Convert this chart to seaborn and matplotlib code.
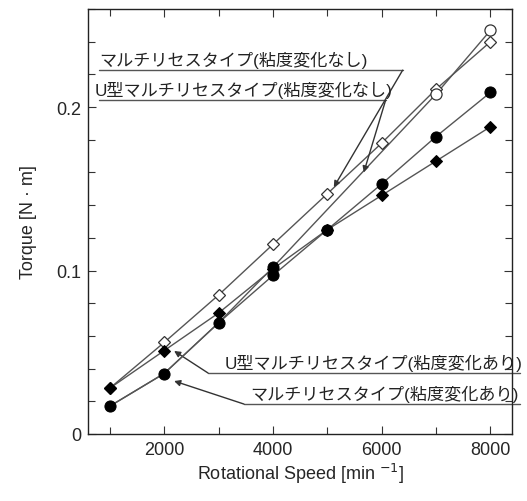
import matplotlib
matplotlib.use("Agg")
import matplotlib.pyplot as plt
import seaborn as sns
from matplotlib.ticker import MultipleLocator, FixedLocator

# rotational speed [min^-1]
speed = [1000, 2000, 3000, 4000, 5000, 6000, 7000, 8000]
speed_open_circle = [1000, 2000, 3000, 4000, 7000, 8000]

# torque [N m]
multi_no_change = [0.017, 0.037, 0.068, 0.102, 0.208, 0.247]      # open circle
u_multi_no_change = [0.028, 0.056, 0.085, 0.116, 0.147, 0.178, 0.211, 0.240]  # open diamond
multi_change = [0.017, 0.037, 0.068, 0.097, 0.125, 0.153, 0.182, 0.209]     # filled circle
u_multi_change = [0.028, 0.051, 0.074, 0.101, 0.125, 0.146, 0.167, 0.188]   # filled diamond

labels = [
    "マルチリセスタイプ(粘度変化なし)",
    "U型マルチリセスタイプ(粘度変化なし)",
    "U型マルチリセスタイプ(粘度変化あり)",
    "マルチリセスタイプ(粘度変化あり)",
]

sns.set_style("ticks")
plt.rcParams["font.family"] = ["Liberation Sans", "Noto Sans CJK JP", "DejaVu Sans"]

fig = plt.figure(figsize=(5.27, 5.02), dpi=100)
ax = fig.add_axes([0.167, 0.1335, 0.805, 0.8465])

line_color = "#555555"

# open-circle curve: line, open markers where it separates, filled below
sns.lineplot(x=speed_open_circle, y=multi_no_change, ax=ax, color=line_color,
             lw=1, zorder=2)
sns.scatterplot(x=speed_open_circle[4:], y=multi_no_change[4:], ax=ax,
                marker="o", s=64, color="white", edgecolor="#333333",
                linewidth=0.9, zorder=2.5)
sns.scatterplot(x=[speed_open_circle[3]], y=[multi_no_change[3]], ax=ax,
                marker="o", s=64, color="black", edgecolor="black", zorder=5)

sns.lineplot(x=speed, y=u_multi_no_change, ax=ax, color=line_color, lw=1,
             marker="D", markersize=6.5, markerfacecolor="white",
             markeredgecolor="#333333", markeredgewidth=0.9, zorder=2)
sns.lineplot(x=speed, y=u_multi_change, ax=ax, color=line_color, lw=1,
             marker="D", markersize=6.5, markerfacecolor="black",
             markeredgecolor="black", zorder=3)
sns.lineplot(x=speed, y=multi_change, ax=ax, color=line_color, lw=1,
             marker="o", markersize=8, markerfacecolor="black",
             markeredgecolor="black", zorder=4)

ax.set_xlim(600, 8400)
ax.set_ylim(0, 0.26)
ax.xaxis.set_major_locator(FixedLocator([2000, 4000, 6000, 8000]))
ax.xaxis.set_minor_locator(MultipleLocator(1000))
ax.yaxis.set_major_locator(FixedLocator([0, 0.1, 0.2]))
ax.yaxis.set_minor_locator(MultipleLocator(0.02))
ax.set_yticklabels(["0", "0.1", "0.2"])
ax.tick_params(which="both", direction="in", top=True, right=True,
               color="#333333", width=0.8)
ax.tick_params(which="major", length=6, labelsize=13, pad=5)
ax.tick_params(which="minor", length=5)
for s in ax.spines.values():
    s.set_linewidth(1.0)
    s.set_color("#222222")

ax.set_xlabel("Rotational Speed [min $^{-1}$]", fontsize=13, labelpad=2)
ax.set_ylabel("Torque [N · m]", fontsize=13, labelpad=14)

# annotations: underline + leader arrow
ann = [
    # text, text anchor x, ha, underline (x0, x1, y), arrow tip
    (labels[0], 807, "left", (807, 6385, 0.2226), (5119, 0.151)),
    (labels[1], 716, "left", (807, 6073, 0.2043), (5670, 0.160)),
    (labels[2], 8590, "right", (2807, 8550, 0.0373), (2183, 0.0508)),
    (labels[3], 8514, "right", (3468, 8550, 0.0183), (2183, 0.0324)),
]
for text, tx, ha, (x0, x1, uy), tip in ann:
    ax.text(tx, uy + 0.0012, text, ha=ha, va="bottom", fontsize=12.3,
            color="#222222", clip_on=False)
    ax.plot([x0, x1], [uy, uy], color=line_color, lw=1, clip_on=False)
    corner = (x1, uy) if ha == "left" else (x0, uy)
    ax.annotate("", xy=tip, xytext=corner,
                arrowprops=dict(arrowstyle="-|>", color="#333333", lw=1,
                                shrinkA=0, shrinkB=0, mutation_scale=9))

fig.savefig("out.png", dpi=100)
